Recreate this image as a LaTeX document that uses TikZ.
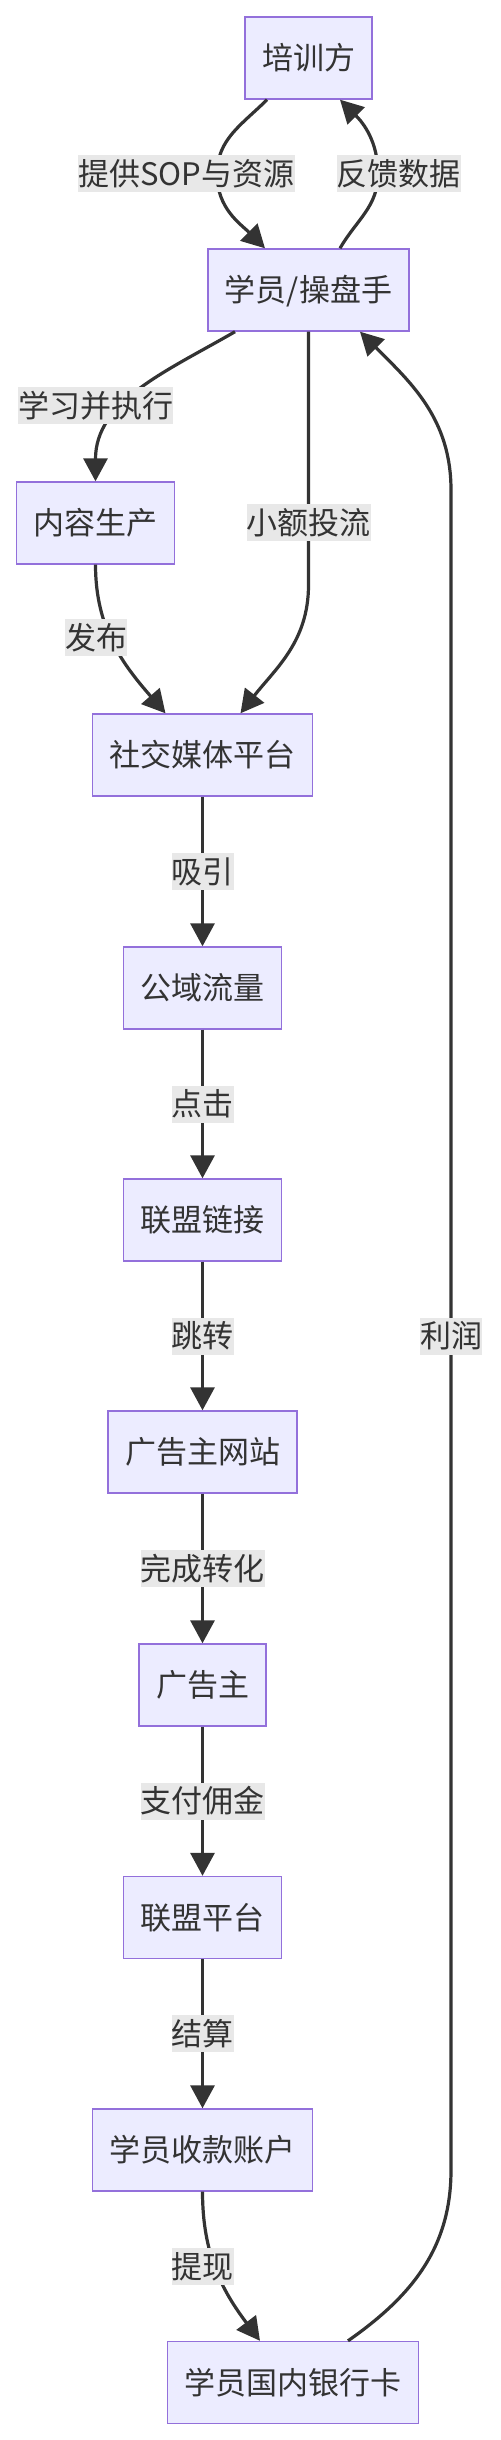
\documentclass[tikz,border=0pt]{standalone}
\usepackage{fontspec}
\setmainfont{Noto Sans CJK SC}
\usepackage{tikz}
\usetikzlibrary{arrows.meta}
\usepackage{xcolor}
\definecolor{boxfill}{HTML}{ECECFF}
\definecolor{boxline}{HTML}{9370DB}
\definecolor{ink}{HTML}{333333}
\definecolor{lblfill}{HTML}{E8E8E8}

\begin{document}
\begin{tikzpicture}[x=0.5pt,y=-0.5pt,
  box/.style={draw=boxline,fill=boxfill,line width=0.7pt,text=ink,
    font=\fontsize{15.5}{18}\selectfont,inner xsep=8.5pt,inner ysep=0pt,
    minimum height=41pt,text height=15pt,text depth=3.5pt},
  lbl/.style={fill=lblfill,text=ink,font=\fontsize{15.5}{18}\selectfont,
    inner sep=0pt,text height=15pt,text depth=3.5pt},
  flow/.style={draw=ink,line width=1.6pt,-{Triangle[length=11.5pt,width=12pt]}}]
\useasboundingbox (0,0) rectangle (500,2440);

\node[box] (peixun) at (308.5,58) {培训方};
\node[box] (xueyuan) at (308.5,290) {学员/操盘手};
\node[box] (neirong) at (95.5,523) {内容生产};
\node[box] (shejiao) at (202.5,755) {社交媒体平台};
\node[box] (gongyu) at (202.5,988) {公域流量};
\node[box] (lmlianjie) at (202.5,1220) {联盟链接};
\node[box] (wangzhan) at (202.5,1452) {广告主网站};
\node[box] (ggzhu) at (202.5,1685) {广告主};
\node[box] (lmpingtai) at (202.5,1917.5) {联盟平台};
\node[box] (zhanghu) at (202.5,2150) {学员收款账户};
\node[box] (yhk) at (293,2382.5) {学员国内银行卡};

% bends
\coordinate (w1) at (217,174);
\coordinate (w2) at (378,174);
\coordinate (w4) at (308.5,585);
\coordinate (w8a) at (451,2170);
\coordinate (w8b) at (451,490);

\draw[flow] ([xshift=-20.75pt]peixun.south) to[out=-135,in=90] (w1) node[lbl,xshift=-15.25pt] {提供SOP与资源} to[out=-90,in=135] ([xshift=-21.75pt]xueyuan.north);
\draw[flow] ([xshift=15.75pt]xueyuan.north) to[out=60,in=-90] (w2) node[lbl,xshift=10.25pt] {反馈数据} to[out=90,in=-45] ([xshift=15.75pt]peixun.south);
\draw[flow] ([xshift=-36.75pt]xueyuan.south) to[out=-150,in=90] node[lbl,pos=0.6,xshift=-14.5pt] {学习并执行} (neirong.north);
\draw[flow] (xueyuan.south) -- node[lbl,pos=0.754] {小额投流} (w4) to[out=-90,in=52] ([xshift=19pt]shejiao.north);
\draw[flow] (neirong.south) to[out=-90,in=131] node[lbl,pos=0.45,xshift=-7.4pt] {发布} ([xshift=-18.5pt]shejiao.north);

\draw[flow] (shejiao) -- node[lbl] {吸引} (gongyu);
\draw[flow] (gongyu) -- node[lbl] {点击} (lmlianjie);
\draw[flow] (lmlianjie) -- node[lbl] {跳转} (wangzhan);
\draw[flow] (wangzhan) -- node[lbl] {完成转化} (ggzhu);
\draw[flow] (ggzhu) -- node[lbl] {支付佣金} (lmpingtai);
\draw[flow] (lmpingtai) -- node[lbl] {结算} (zhanghu);
\draw[flow] (zhanghu.south) to[out=-90,in=127] node[lbl,pos=0.47,xshift=-6.4pt] {提现} ([xshift=-16.5pt]yhk.north);

% back to the student
\draw[flow] ([xshift=27.5pt]yhk.north) to[out=35,in=-90] (w8a) -- node[lbl,pos=0.4964] {利润} (w8b) to[out=90,in=-45] ([xshift=25.75pt]xueyuan.south);
\end{tikzpicture}
\end{document}
